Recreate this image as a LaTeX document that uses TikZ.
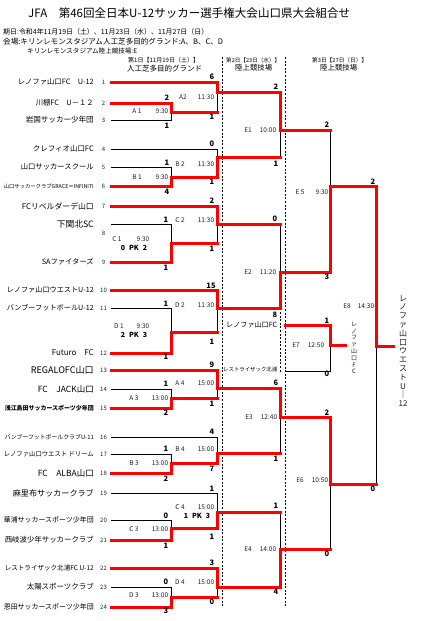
\documentclass[tikz,border=0pt]{standalone}
\usepackage{fontspec}
\setmainfont{Noto Sans CJK JP}
\usepackage{graphicx}
\definecolor{brk}{RGB}{255,0,0}
\definecolor{ink}{RGB}{30,30,45}
\tikzset{
 win/.style={draw=brk, line width=3pt, line cap=rect, line join=miter},
 lose/.style={draw=black, line width=0.9pt},
 sep/.style={draw=black, line width=0.8pt, dash pattern=on 2pt off 1.6pt},
 tname/.style={anchor=east, inner sep=0pt, text=black},
 tnum/.style={inner sep=0pt, font=\fontsize{6}{6}\selectfont, text=ink},
 sc/.style={inner sep=0pt, font=\fontsize{7.5}{7.5}\selectfont\bfseries},
 lab/.style={inner sep=0pt, font=\fontsize{6.5}{6.5}\selectfont, text=ink},
 pk/.style={inner sep=0pt, font=\fontsize{7}{7}\selectfont\bfseries},
 hdr/.style={anchor=west, inner sep=0pt, text=black},
}
\newcommand\fitw[2]{\resizebox{#1pt}{!}{#2}}
\newcommand\team[4]{%
  \node[tname] (n#1) at (94,#2) {\fitw{#3}{\fontsize{8}{8}\selectfont #4}};
  \node[tnum] (k#1) at (103.5,#2) {#1};
  \coordinate (t#1) at (111,#2);}
\begin{document}
\begin{tikzpicture}[x=1pt,y=-1pt]
\fill[white] (0,0) rectangle (422,621);
\useasboundingbox (0,0) rectangle (422,621);

% ---------- header ----------
\node[hdr] (title) at (28,13) {\fitw{322}{\fontsize{12}{12}\selectfont JFA　第46回全日本U-12サッカー選手権大会山口県大会組合せ}};
\node[hdr] (h1) at (3,32) {\fitw{205}{\fontsize{8}{8}\selectfont 期日:令和4年11月19日（土）、11月23日（水）、11月27日（日）}};
\node[hdr] (h2) at (3,42) {\fitw{220}{\fontsize{8}{8}\selectfont 会場:キリンレモンスタジアム人工芝多目的グランド:A、B、C、D}};
\node[hdr] (h3) at (27,51) {\fitw{110}{\fontsize{8}{8}\selectfont キリンレモンスタジアム陸上競技場:E}};
\node[hdr] (d1a) at (128,60) {\fitw{71}{\fontsize{8}{8}\selectfont 第1日【11月19日（土）】}};
\node[hdr] (d1b) at (127,69) {\fitw{75}{\fontsize{8}{8}\selectfont 人工芝多目的グランド}};
\node[hdr] (d2a) at (226,60) {\fitw{54}{\fontsize{8}{8}\selectfont 第2日【23日（水）】}};
\node[hdr] (d2b) at (235,68) {\fitw{37}{\fontsize{8}{8}\selectfont 陸上競技場}};
\node[hdr] (d3a) at (312,60) {\fitw{55}{\fontsize{8}{8}\selectfont 第3日【27日（日）】}};
\node[hdr] (d3b) at (320,68) {\fitw{37}{\fontsize{8}{8}\selectfont 陸上競技場}};

% ---------- separators ----------
\coordinate (sa1) at (222,57); \coordinate (sa2) at (222,607);
\coordinate (sb1) at (285,57); \coordinate (sb2) at (285,607);
\coordinate (sc1) at (280,312); \coordinate (sc2) at (280,372);
\draw[sep] (sa1) -- (sa2);
\draw[sep] (sb1) -- (sb2);
\draw[sep] (sc1) -- (sc2);

% ---------- teams ----------
\team{1}{82}{76}{レノファ山口FC　U-12}
\team{2}{103}{58}{川棚FC　U－１２}
\team{3}{120}{68}{岩国サッカー少年団}
\team{4}{149}{61}{クレフィオ山口FC}
\team{5}{167}{73}{山口サッカースクール}
\team{6}{186}{90}{山口サッカークラブGRACE＝INFINITI}
\team{7}{206}{72}{FCリベルダーデ山口}
\node[tname] (n8) at (94,224) {\fitw{37}{\fontsize{8}{8}\selectfont 下関北SC}};
\node[tnum] (k8) at (103.5,233) {8};
\coordinate (t8) at (111,224);
\team{9}{262}{52}{SAファイターズ}
\team{10}{290}{87}{レノファ山口ウエストU-12}
\team{11}{308}{87}{バンブーフットボールU-12}
\team{12}{353}{42}{Futuro　FC}
\team{13}{370}{63}{REGALOFC山口}
\team{14}{389}{56}{FC　JACK山口}
\team{15}{408}{89}{\bfseries 浅江島田サッカースポーツ少年団}
\team{16}{437}{89}{バンブーフットボールクラブU-11}
\team{17}{454}{90}{レノファ山口ウエスト ドリーム}
\team{18}{473}{56}{FC　ALBA山口}
\team{19}{493}{81}{麻里布サッカークラブ}
\team{20}{520}{90}{華浦サッカースポーツ少年団}
\team{21}{540}{89}{西岐波少年サッカークラブ}
\team{22}{568}{89}{レストライザック北浦FC U-12}
\team{23}{587}{67}{太陽スポーツクラブ}
\team{24}{607}{90}{恩田サッカースポーツ少年団}

% ---------- match points ----------
\coordinate (A1) at (171,112); \coordinate (A2) at (217,92);
\coordinate (B1) at (171,177); \coordinate (B2) at (217,157);
\coordinate (C1) at (171,243); \coordinate (C2) at (217,224);
\coordinate (D1) at (171,332); \coordinate (D2) at (217,308);
\coordinate (A3) at (171,398); \coordinate (A4) at (217,388);
\coordinate (B3) at (171,463); \coordinate (B4) at (217,453);
\coordinate (C3) at (171,528); \coordinate (C4) at (217,512);
\coordinate (D3) at (171,597); \coordinate (D4) at (217,587);
\coordinate (E1) at (280,130); \coordinate (E2) at (280,272);
\coordinate (E3) at (280,417); \coordinate (E4) at (280,549);
\coordinate (E5) at (330,186); \coordinate (E6) at (330,484);
\coordinate (E8) at (376,346); \coordinate (F8) at (393,346);
\coordinate (p1) at (285,325); \coordinate (p2) at (285,371);
\coordinate (E7) at (330,345); \coordinate (F7) at (345,345);

% ---------- losing lines ----------
\draw[lose] (t3) -| (A1);
\draw[lose] (A1 -| A2) -- (A2);
\draw[lose] (t5) -| (B1);
\draw[lose] (t4) -| (B2);
\draw[lose] (B2 -| E1) -- (E1);
\draw[lose] (t8) -| (C1);
\draw[lose] (C1 -| C2) -- (C2);
\draw[lose] (t11) -| (D1);
\draw[lose] (D1 -| D2) -- (D2);
\draw[lose] (C2 -| E2) -- (E2);
\draw[lose] (E1 -| E5) -- (E5);
\draw[lose] (t14) -| (A3);
\draw[lose] (A3 -| A4) -- (A4);
\draw[lose] (t17) -| (B3);
\draw[lose] (t16) -| (B4);
\draw[lose] (B4 -| E3) -- (E3);
\draw[lose] (t20) -| (C3);
\draw[lose] (t19) -| (C4);
\draw[lose] (t23) -| (D3);
\draw[lose] (D3 -| D4) -- (D4);
\draw[lose] (C4 -| E4) -- (E4);
\draw[lose] (E4 -| E6) -- (E6);
\draw[lose] (E6 -| E8) -- (E8);
\draw[lose] (p2) -| (E7);

% ---------- winning lines ----------
\draw[win] (t2) -| (A1) -- (A1 -| A2);
\draw[win] (t1) -| (A2) -- (A2 -| E1);
\draw[win] (t6) -| (B1) -- (B1 -| B2);
\draw[win] (B1 -| B2) -- (B2) -- (B2 -| E1);
\draw[win] (A2 -| E1) -- (E1) -- (E1 -| E5);
\draw[win] (t9) -| (C1) -- (C1 -| C2);
\draw[win] (t7) -| (C2) -- (C2 -| E2);
\draw[win] (t12) -| (D1) -- (D1 -| D2);
\draw[win] (t10) -| (D2) -- (D2 -| E2);
\draw[win] (D2 -| E2) -- (E2) -- (E2 -| E5);
\draw[win] (E2 -| E5) -- (E5) -- (E5 -| E8);
\draw[win] (t15) -| (A3) -- (A3 -| A4);
\draw[win] (t13) -| (A4) -- (A4 -| E3);
\draw[win] (t18) -| (B3) -- (B3 -| B4);
\draw[win] (B3 -| B4) -- (B4) -- (B4 -| E3);
\draw[win] (A4 -| E3) -- (E3) -- (E3 -| E6);
\draw[win] (t21) -| (C3) -- (C3 -| C4);
\draw[win] (C3 -| C4) -- (C4) -- (C4 -| E4);
\draw[win] (t24) -| (D3) -- (D3 -| D4);
\draw[win] (t22) -| (D4) -- (D4 -| E4);
\draw[win] (D4 -| E4) -- (E4) -- (E4 -| E6);
\draw[win] (E3 -| E6) -- (E6) -- (E6 -| E8);
\draw[win] (E5 -| E8) -- (E8) -- (F8);
\draw[win] (p1) -| (E7) -- (F7);

% ---------- scores ----------
\node[sc] (sA1a) at (167,98) {2};  \node[sc] (sA1b) at (167,126) {1};
\node[sc] (sA2a) at (212,77) {6};  \node[sc] (sA2b) at (212,117) {1};
\node[sc] (sB1a) at (167,163) {1}; \node[sc] (sB1b) at (167,192) {4};
\node[sc] (sB2a) at (212,144) {0}; \node[sc] (sB2b) at (212,182) {1};
\node[sc] (sC1a) at (166,220) {1}; \node[sc] (sC1b) at (166,268) {1};
\node[sc] (sC2a) at (212,201) {2}; \node[sc] (sC2b) at (212,249) {1};
\node[sc] (sD1a) at (166,304) {1}; \node[sc] (sD1b) at (166,357) {1};
\node[sc] (sD2a) at (211,286) {15}; \node[sc] (sD2b) at (212,342) {1};
\node[sc] (sA3a) at (166,384) {1}; \node[sc] (sA3b) at (166,413) {2};
\node[sc] (sA4a) at (212,365) {9}; \node[sc] (sA4b) at (212,404) {1};
\node[sc] (sB3a) at (166,449) {1}; \node[sc] (sB3b) at (166,479) {2};
\node[sc] (sB4a) at (212,432) {4}; \node[sc] (sB4b) at (212,469) {7};
\node[sc] (sC3a) at (166,516) {0}; \node[sc] (sC3b) at (166,546) {1};
\node[sc] (sC4a) at (212,489) {1}; \node[sc] (sC4b) at (212,537) {1};
\node[sc] (sD3a) at (166,582) {0}; \node[sc] (sD3b) at (166,611) {3};
\node[sc] (sD4a) at (212,563) {3}; \node[sc] (sD4b) at (212,602) {0};
\node[sc] (sE1a) at (276,87) {2};  \node[sc] (sE1b) at (276,164) {1};
\node[sc] (sE2a) at (275,219) {0}; \node[sc] (sE2b) at (275,315) {8};
\node[sc] (sE3a) at (276,383) {6}; \node[sc] (sE3b) at (276,459) {1};
\node[sc] (sE4a) at (276,506) {1}; \node[sc] (sE4b) at (276,592) {4};
\node[sc] (sE5a) at (327,125) {2}; \node[sc] (sE5b) at (327,277) {3};
\node[sc] (sE6a) at (327,413) {2}; \node[sc] (sE6b) at (327,554) {0};
\node[sc] (sE7a) at (327,321) {1}; \node[sc] (sE7b) at (327,374) {0};
\node[sc] (sE8a) at (373,182) {2}; \node[sc] (sE8b) at (373,489) {0};

% ---------- match labels ----------
\node[lab] (lA1) at (137,111) {A 1}; \node[lab] (tA1) at (162,111) {9:30};
\node[lab] (lA2) at (183,97) {A2};   \node[lab] (tA2) at (206,97) {11:30};
\node[lab] (lB1) at (137,177) {B 1}; \node[lab] (tB1) at (162,177) {9:30};
\node[lab] (lB2) at (180,164) {B 2}; \node[lab] (tB2) at (206,164) {11:30};
\node[lab] (lC1) at (117,239) {C 1}; \node[lab] (tC1) at (143,239) {9:30};
\node[pk] (kC1) at (134,248) {0\hspace{4pt}PK\hspace{4pt}2};
\node[lab] (lC2) at (180,220) {C 2}; \node[lab] (tC2) at (206,220) {11:30};
\node[lab] (lD1) at (119,326) {D 1}; \node[lab] (tD1) at (143,326) {9:30};
\node[pk] (kD1) at (134,335) {2\hspace{4pt}PK\hspace{4pt}3};
\node[lab] (lD2) at (180,305) {D 2}; \node[lab] (tD2) at (206,305) {11:30};
\node[lab] (lA3) at (134,398) {A 3}; \node[lab] (tA3) at (160,398) {13:00};
\node[lab] (lA4) at (180,383) {A 4}; \node[lab] (tA4) at (206,383) {15:00};
\node[lab] (lB3) at (134,463) {B 3}; \node[lab] (tB3) at (160,463) {13:00};
\node[lab] (lB4) at (180,449) {B 4}; \node[lab] (tB4) at (206,449) {15:00};
\node[lab] (lC3) at (134,529) {C 3}; \node[lab] (tC3) at (160,529) {13:00};
\node[lab] (lC4) at (180,507) {C 4}; \node[lab] (tC4) at (206,507) {15:00};
\node[pk] (kC4) at (197,516) {1\hspace{4pt}PK\hspace{4pt}3};
\node[lab] (lD3) at (134,595) {D 3}; \node[lab] (tD3) at (160,595) {13:00};
\node[lab] (lD4) at (180,582) {D 4}; \node[lab] (tD4) at (206,582) {15:00};
\node[lab] (lE1) at (248,130) {E1};  \node[lab] (tE1) at (268,130) {10:00};
\node[lab] (lE2) at (248,272) {E2};  \node[lab] (tE2) at (268,272) {11:20};
\node[lab] (lE3) at (249,417) {E3};  \node[lab] (tE3) at (269,417) {12:40};
\node[lab] (lE4) at (248,549) {E4};  \node[lab] (tE4) at (268,549) {14:00};
\node[lab] (lE5) at (300,192) {E 5}; \node[lab] (tE5) at (322,192) {9:30};
\node[lab] (lE6) at (300,480) {E6};  \node[lab] (tE6) at (320,480) {10:50};
\node[lab] (lE7) at (296,345) {E7};  \node[lab] (tE7) at (316,345) {12:50};
\node[lab] (lE8) at (347,306) {E8};  \node[lab] (tE8) at (366,306) {14:30};

% ---------- 3rd place entrants ----------
\node[inner sep=0pt, anchor=west] (q1) at (226,325) {\fitw{51}{\fontsize{8}{8}\selectfont レノファ山口FC}};
\node[inner sep=0pt, anchor=west] (q2) at (223,369) {\fitw{54}{\fontsize{8}{8}\selectfont レストライザック北浦}};

% ---------- vertical winners ----------
\node[inner sep=0pt, align=center, text=ink, font=\fontsize{6}{6.8}\selectfont] (w7) at (354,348) {レ\\ノ\\フ\\ァ\\山\\口\\F\\C};
\node[inner sep=0pt, align=center, text=ink, font=\fontsize{8}{8.8}\selectfont] (w8) at (403,351) {レ\\ノ\\フ\\ァ\\山\\口\\ウ\\エ\\ス\\ト\\U\\｜\\12};
\end{tikzpicture}
\end{document}
